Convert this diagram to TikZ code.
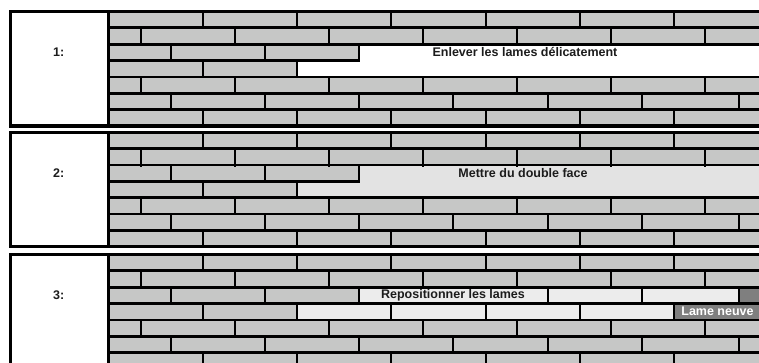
\documentclass[tikz,border=0pt]{standalone}
\usepackage{fontspec}
\setmainfont{Liberation Sans}
\definecolor{brick}{RGB}{198,199,198}
\definecolor{tape}{RGB}{227,227,227}
\definecolor{relaid}{RGB}{236,236,236}
\definecolor{newlame}{RGB}{127,127,127}
\definecolor{txt}{RGB}{28,28,28}
\def\H{16.35}
\def\XL{10.5}
\def\XB{108.3}
\def\XR{800}
\def\LA{203,297,391,486,580,674}
\def\LB{141,235,329,423,517,611,705}
\def\LC{171,265,359,453,548,642,739}
% #1 panel top, #2 row index, #3 list of joint x
\newcommand\jrow[3]{%
  \foreach \jx in #3 {\draw[joint] (\jx,{#1+(#2-1)*\H}) -- (\jx,{#1+#2*\H});}}
\newcommand\sepline[3]{% #1 top, #2 index, #3 right end
  \draw[sepl] (\XB,{#1+#2*\H}) -- (#3,{#1+#2*\H});}
\newcommand\panelbase[1]{%
  \fill[brick] (\XB,#1) rectangle (\XR,{#1+7*\H});
  \fill[white] (\XL,#1) rectangle (\XB,{#1+7*\H});}
\newcommand\panelframe[1]{%
  \draw[framel] (\XL,#1) rectangle (\XR,{#1+7*\H});
  \draw[framel] (\XB,#1) -- (\XB,{#1+7*\H});}
\newcommand\stdrows[1]{%
  \jrow{#1}{1}{\LA}\jrow{#1}{2}{\LB}\jrow{#1}{5}{\LB}\jrow{#1}{6}{\LC}\jrow{#1}{7}{\LA}
  \foreach \i in {1,2,4,5,6} {\sepline{#1}{\i}{\XR}}}
\begin{document}
\begin{tikzpicture}[x=1pt,y=-1pt,line cap=butt,
  sepl/.style={line width=2.8pt},
  joint/.style={line width=2.7pt},
  framel/.style={line width=3.2pt},
  lbl/.style={font=\fontsize{12.5}{14}\selectfont\bfseries,text=txt,inner sep=0pt}]
\useasboundingbox (0,0) rectangle (759,362);
\clip (0,0) rectangle (759,362);
\def\Ta{11.5}
\def\Tb{132.3}
\def\Tc{254.5}
% ---------- panel 1 ----------
\panelbase{\Ta}
\fill[white] (359,{\Ta+2*\H}) -- (\XR,{\Ta+2*\H}) -- (\XR,{\Ta+4*\H}) -- (297,{\Ta+4*\H})
  -- (297,{\Ta+3*\H}) -- (359,{\Ta+3*\H}) -- cycle;
\stdrows{\Ta}
\jrow{\Ta}{3}{{171,265,359}}
\jrow{\Ta}{4}{{203,297}}
\sepline{\Ta}{3}{360.4}
\panelframe{\Ta}
\node[lbl] (n1) at (58.7,{\Ta+2.5*\H}) {1:};
\node[lbl] (t1) at (525,{\Ta+2.5*\H}) {Enlever les lames délicatement};
% ---------- panel 2 ----------
\panelbase{\Tb}
\fill[tape] (359,{\Tb+2*\H}) -- (\XR,{\Tb+2*\H}) -- (\XR,{\Tb+4*\H}) -- (297,{\Tb+4*\H})
  -- (297,{\Tb+3*\H}) -- (359,{\Tb+3*\H}) -- cycle;
\stdrows{\Tb}
\foreach \jx in {141,235,329,423,517,611,705}
  {\draw[joint] (\jx,{\Tb+\H}) -- (\jx,{\Tb+2*\H+1.6});}
\jrow{\Tb}{3}{{171,265,359}}
\jrow{\Tb}{4}{{203,297}}
\sepline{\Tb}{3}{360.4}
\panelframe{\Tb}
\node[lbl] (n2) at (58.7,{\Tb+2.5*\H}) {2:};
\node[lbl] (t2) at (523,{\Tb+2.5*\H}) {Mettre du double face};
% ---------- panel 3 ----------
\panelbase{\Tc}
\fill[relaid] (359,{\Tc+2*\H}) rectangle (739,{\Tc+3*\H});
\fill[newlame] (739,{\Tc+2*\H}) rectangle (\XR,{\Tc+3*\H});
\fill[relaid] (297,{\Tc+3*\H}) rectangle (674,{\Tc+4*\H});
\fill[newlame] (674,{\Tc+3*\H}) rectangle (\XR,{\Tc+4*\H});
\stdrows{\Tc}
\jrow{\Tc}{3}{{171,265,359,548,642,739}}
\jrow{\Tc}{4}{\LA}
\sepline{\Tc}{3}{\XR}
\panelframe{\Tc}
\node[lbl] (n3) at (58.7,{\Tc+2.5*\H}) {3:};
\node[lbl] (t3) at (453,{\Tc+2.5*\H}) {Repositionner les lames};
\node[lbl,text=white] (t4) at (717.5,{\Tc+3.5*\H}) {Lame neuve};
\end{tikzpicture}
\end{document}
